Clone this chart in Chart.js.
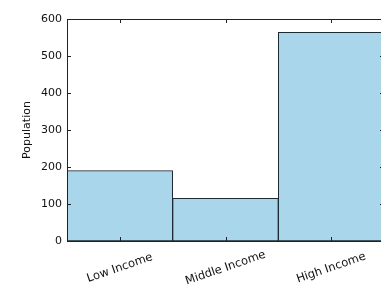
<!DOCTYPE html>
<html>
<head>
<meta charset="utf-8">
<script src="https://cdn.jsdelivr.net/npm/chart.js@4.4.1/dist/chart.umd.min.js"></script>
<style>
  html, body { margin: 0; padding: 0; background: #fff; overflow: hidden; }
  #wrap { width: 384px; height: 295px; }
</style>
</head>
<body>
<div id="wrap"><canvas id="chart"></canvas></div>
<script>
'use strict';

const categories = ['Low Income', 'Middle Income', 'High Income'];
const population = [190, 115, 564];
const yTicks = [0, 100, 200, 300, 400, 500, 600];

const FONT = "'DejaVu Sans', sans-serif";

// matplotlib-style frame, inward ticks and rotated centred x labels
const framePlugin = {
    'id': 'frame',
    afterDatasetsDraw(chart) {
        const {ctx, chartArea: a} = chart;
        const x = chart.scales.x;
        const y = chart.scales.y;
        ctx.save();
        ctx.strokeStyle = '#222';
        ctx.lineWidth = 1;
        ctx.beginPath();
        yTicks.forEach(v => {
            const py = Math.round(y.getPixelForValue(v)) + 0.5;
            ctx.moveTo(a.left, py);
            ctx.lineTo(a.left + 4, py);
            ctx.moveTo(a.right, py);
            ctx.lineTo(a.right - 4, py);
        });
        categories.forEach((c, i) => {
            const px = Math.round(x.getPixelForTick(i)) + 0.5;
            ctx.moveTo(px, a.top);
            ctx.lineTo(px, a.top + 4);
            ctx.moveTo(px, a.bottom);
            ctx.lineTo(px, a.bottom - 4);
        });
        ctx.stroke();
        ctx.strokeRect(Math.round(a.left) + 0.5, Math.round(a.top) + 0.5,
            Math.round(a.right - a.left), Math.round(a.bottom - a.top));

        ctx.fillStyle = '#111';
        ctx.font = '11.5px ' + FONT;
        ctx.textAlign = 'center';
        ctx.textBaseline = 'middle';
        categories.forEach((c, i) => {
            ctx.save();
            ctx.translate(x.getPixelForTick(i), a.bottom + 27);
            ctx.rotate(-19 * Math.PI / 180);
            ctx.fillText(c, 0, 0);
            ctx.restore();
        });
        ctx.restore();
    }
};

const ctx = document.getElementById('chart').getContext('2d');
const chart = new Chart(ctx, {
    'type': 'bar',
    'data': {
        'labels': categories,
        'datasets': [{
            'label': 'Population',
            'data': population,
            'backgroundColor': 'rgb(170, 214, 235)',
            'borderColor': '#1e2a33',
            'borderWidth': 1,
            'borderSkipped': false,
            'barPercentage': 1,
            'categoryPercentage': 1
        }]
    },
    'options': {
        'responsive': true,
        'maintainAspectRatio': false,
        'animation': false,
        'layout': {
            'padding': {'left': 21, 'top': 19, 'right': 0, 'bottom': 0}
        },
        'plugins': {
            'legend': {'display': false},
            'tooltip': {'enabled': false}
        },
        'scales': {
            'x': {
                'grid': {'display': false},
                'border': {'display': false},
                'ticks': {'display': false},
                afterFit(scale) { scale.height = 54; }
            },
            'y': {
                'min': 0,
                'max': 600,
                'afterBuildTicks': scale => {
                    scale.ticks = yTicks.map(v => ({'value': v}));
                },
                'grid': {'display': false, 'drawTicks': false, 'tickLength': 0},
                'border': {'display': false},
                'ticks': {
                    'color': '#111',
                    'padding': 5,
                    'font': {'family': FONT, 'size': 11}
                },
                'title': {
                    'display': true,
                    'text': 'Population',
                    'color': '#111',
                    'padding': 0,
                    'font': {'family': FONT, 'size': 11}
                },
                afterFit(scale) { scale.width = 46; }
            }
        }
    },
    'plugins': [framePlugin]
});
</script>
</body>
</html>
